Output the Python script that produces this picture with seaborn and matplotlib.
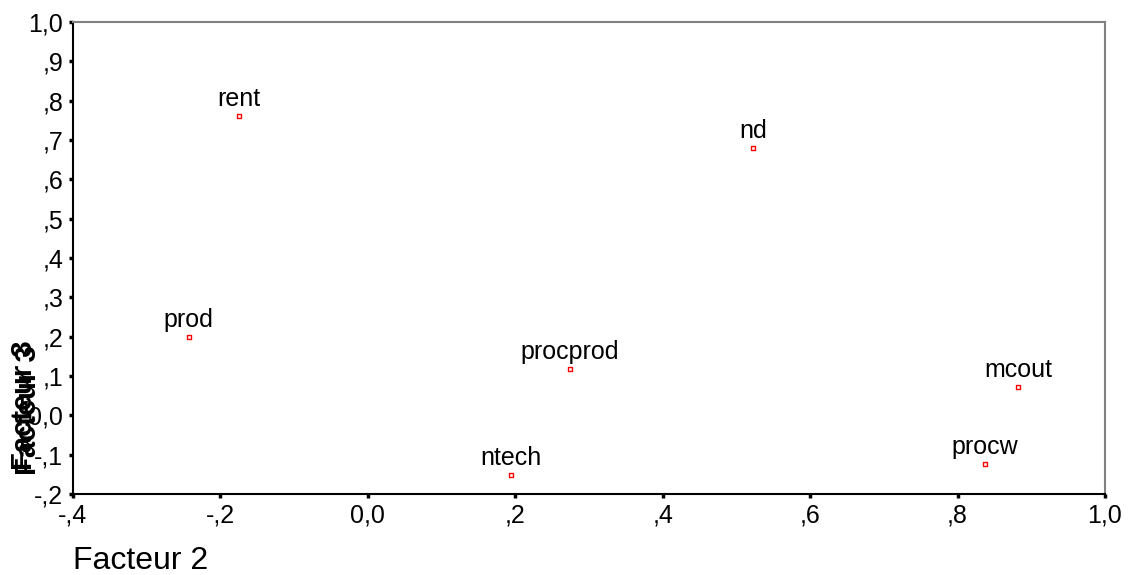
import numpy as np
import pandas as pd
import seaborn as sns
import matplotlib.pyplot as plt

# Factor loadings (Facteur 2 vs Facteur 3)
labels = ['rent', 'nd', 'prod', 'procprod', 'mcout', 'ntech', 'procw']
facteur2 = [-0.175, 0.523, -0.243, 0.274, 0.882, 0.194, 0.837]
facteur3 = [0.761, 0.680, 0.199, 0.118, 0.072, -0.152, -0.124]

xticks = [-0.4, -0.2, 0.0, 0.2, 0.4, 0.6, 0.8, 1.0]
xticklabels = ['-,4', '-,2', '0,0', ',2', ',4', ',6', ',8', '1,0']
yticks = [-0.2, -0.1, 0.0, 0.1, 0.2, 0.3, 0.4, 0.5, 0.6, 0.7, 0.8, 0.9, 1.0]
yticklabels = ['-,2', '-,1', '0,0', ',1', ',2', ',3', ',4', ',5', ',6', ',7', ',8', ',9', '1,0']

df = pd.DataFrame({'label': labels, 'f2': facteur2, 'f3': facteur3})

sns.set_style('white')
plt.rcParams['font.family'] = ['Liberation Sans', 'DejaVu Sans']

fig = plt.figure(figsize=(11.31, 5.75), dpi=100)
ax = fig.add_axes([0.0645, 0.141, 0.9125, 0.8205])

sns.scatterplot(data=df, x='f2', y='f3', marker='s', s=8, facecolor='none',
                edgecolor='red', linewidth=1.0, ax=ax)

for _, r in df.iterrows():
    ax.annotate(r['label'], (r['f2'], r['f3']), xytext=(0, 7), textcoords='offset points',
                ha='center', va='baseline', fontsize=18, color='black')

ax.set_xlim(-0.4, 1.0)
ax.set_ylim(-0.2, 1.0)
ax.set_xticks(xticks)
ax.set_xticklabels(xticklabels)
ax.set_yticks(yticks)
ax.set_yticklabels(yticklabels)
ax.tick_params(axis='both', direction='out', length=3, width=2.5, color='black',
               labelcolor='black', labelsize=18, pad=4, left=True, bottom=True)
ax.set_xlabel('')
ax.set_ylabel('')

for side in ['left', 'bottom']:
    ax.spines[side].set_color('black')
    ax.spines[side].set_linewidth(1.5)
for side in ['top', 'right']:
    ax.spines[side].set_color('#808080')
    ax.spines[side].set_linewidth(1.5)

fig.text(73 / 1131, 1 - 569 / 575, 'Facteur 2', ha='left', va='baseline', fontsize=23,
         color='black')
# the y label appears doubled in the original, drawn with a slight offset
fig.text(24 / 1131, 1 - 405 / 575, 'Facteur 3', rotation=90, ha='center', va='center',
         fontsize=21, color='black', fontweight='bold')
fig.text(28 / 1131, 1 - 410 / 575, 'Facteur 3', rotation=90, ha='center', va='center',
         fontsize=21, color='black', fontweight='bold')

fig.savefig('out.png', dpi=100)
